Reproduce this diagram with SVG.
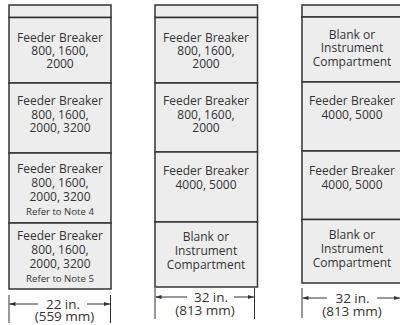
<svg xmlns="http://www.w3.org/2000/svg" width="400" height="325" viewBox="0 0 400 325">
<defs>
<style>
.box{fill:#ededee;stroke:#333;stroke-width:1.5}
.t{font-family:"Open Sans","Noto Sans","Liberation Sans",sans-serif;font-size:12px;fill:#333;text-anchor:middle}
.s{font-size:9.6px}
.d{font-size:13.5px}
.dim{stroke:#333;stroke-width:1;fill:none}
</style>
<marker id="ah" viewBox="0 0 10 10" refX="10" refY="5" markerWidth="6" markerHeight="6" markerUnits="userSpaceOnUse" orient="auto">
<path d="M0,1.5 L10,5 L0,8.5 Z" fill="#333"/>
</marker>
</defs>
<rect width="400" height="325" fill="#fff"/>
<g id="col1">
<g id="c1top"><rect class="box" x="9" y="5" width="102" height="12.5"/></g>
<g id="c1n1"><rect class="box" x="9" y="17.5" width="102" height="65.5"/>
<text class="t" x="60" y="42">Feeder Breaker</text><text class="t" x="60" y="55">800, 1600,</text><text class="t" x="60" y="68">2000</text></g>
<g id="c1n2"><rect class="box" x="9" y="83" width="102" height="70"/>
<text class="t" x="60" y="105">Feeder Breaker</text><text class="t" x="60" y="118.5">800, 1600,</text><text class="t" x="60" y="132">2000, 3200</text></g>
<g id="c1n3"><rect class="box" x="9" y="153" width="102" height="70"/>
<text class="t" x="60" y="173">Feeder Breaker</text><text class="t" x="60" y="187">800, 1600,</text><text class="t" x="60" y="201">2000, 3200</text><text class="t s" x="60" y="215">Refer to Note 4</text></g>
<g id="c1n4"><rect class="box" x="9" y="223" width="102" height="66"/>
<text class="t" x="60" y="240">Feeder Breaker</text><text class="t" x="60" y="253.5">800, 1600,</text><text class="t" x="60" y="267.5">2000, 3200</text><text class="t s" x="60" y="281.5">Refer to Note 5</text></g>
</g>
<g id="col2">
<g id="c2top"><rect class="box" x="155" y="5" width="102.5" height="12.5"/></g>
<g id="c2n1"><rect class="box" x="155" y="17.5" width="102.5" height="65.5"/>
<text class="t" x="206" y="42">Feeder Breaker</text><text class="t" x="206" y="55">800, 1600,</text><text class="t" x="206" y="68">2000</text></g>
<g id="c2n2"><rect class="box" x="155" y="83" width="102.5" height="69"/>
<text class="t" x="206" y="105">Feeder Breaker</text><text class="t" x="206" y="118.5">800, 1600,</text><text class="t" x="206" y="132">2000</text></g>
<g id="c2n3"><rect class="box" x="155" y="152" width="102.5" height="70"/>
<text class="t" x="206" y="175">Feeder Breaker</text><text class="t" x="206" y="188.5">4000, 5000</text></g>
<g id="c2n4"><rect class="box" x="155" y="222" width="102.5" height="65"/>
<text class="t" x="206" y="241">Blank or</text><text class="t" x="206" y="255">Instrument</text><text class="t" x="206" y="268.5">Compartment</text></g>
</g>
<g id="col3">
<g id="c3top"><rect class="box" x="302" y="5" width="102" height="12"/></g>
<g id="c3n1"><rect class="box" x="302" y="17" width="102" height="65"/>
<text class="t" x="352" y="38.5">Blank or</text><text class="t" x="352" y="52">Instrument</text><text class="t" x="352" y="65.5">Compartment</text></g>
<g id="c3n2"><rect class="box" x="302" y="82" width="102" height="69"/>
<text class="t" x="352" y="105">Feeder Breaker</text><text class="t" x="352" y="118.5">4000, 5000</text></g>
<g id="c3n3"><rect class="box" x="302" y="151" width="102" height="68.5"/>
<text class="t" x="352" y="175">Feeder Breaker</text><text class="t" x="352" y="189">4000, 5000</text></g>
<g id="c3n4"><rect class="box" x="302" y="219.5" width="102" height="63.5"/>
<text class="t" x="352" y="239">Blank or</text><text class="t" x="352" y="252.5">Instrument</text><text class="t" x="352" y="266.5">Compartment</text></g>
</g>
<g id="connectors">
<line class="dim" x1="9" y1="295" x2="9" y2="323"/><line class="dim" x1="110.5" y1="295" x2="110.5" y2="323"/>
<line class="dim" x1="38" y1="304" x2="9.5" y2="304" marker-end="url(#ah)"/><line class="dim" x1="87" y1="304" x2="110" y2="304" marker-end="url(#ah)"/>
<line class="dim" x1="155" y1="288" x2="155" y2="319"/><line class="dim" x1="254.5" y1="288" x2="254.5" y2="319"/>
<line class="dim" x1="187" y1="297" x2="155.5" y2="297" marker-end="url(#ah)"/><line class="dim" x1="234" y1="297" x2="254" y2="297" marker-end="url(#ah)"/>
<line class="dim" x1="302" y1="288" x2="302" y2="318"/>
<line class="dim" x1="327" y1="298" x2="302.5" y2="298" marker-end="url(#ah)"/><line class="dim" x1="377" y1="298" x2="400" y2="298" marker-end="url(#ah)"/>
</g>
<g id="labels">
<text class="t d" x="63" y="309">22 in.</text><text class="t d" x="64.5" y="321">(559 mm)</text>
<text class="t d" x="211" y="302">32 in.</text><text class="t d" x="205" y="315">(813 mm)</text>
<text class="t d" x="352.5" y="303">32 in.</text><text class="t d" x="352" y="315.5">(813 mm)</text>
</g>
</svg>
